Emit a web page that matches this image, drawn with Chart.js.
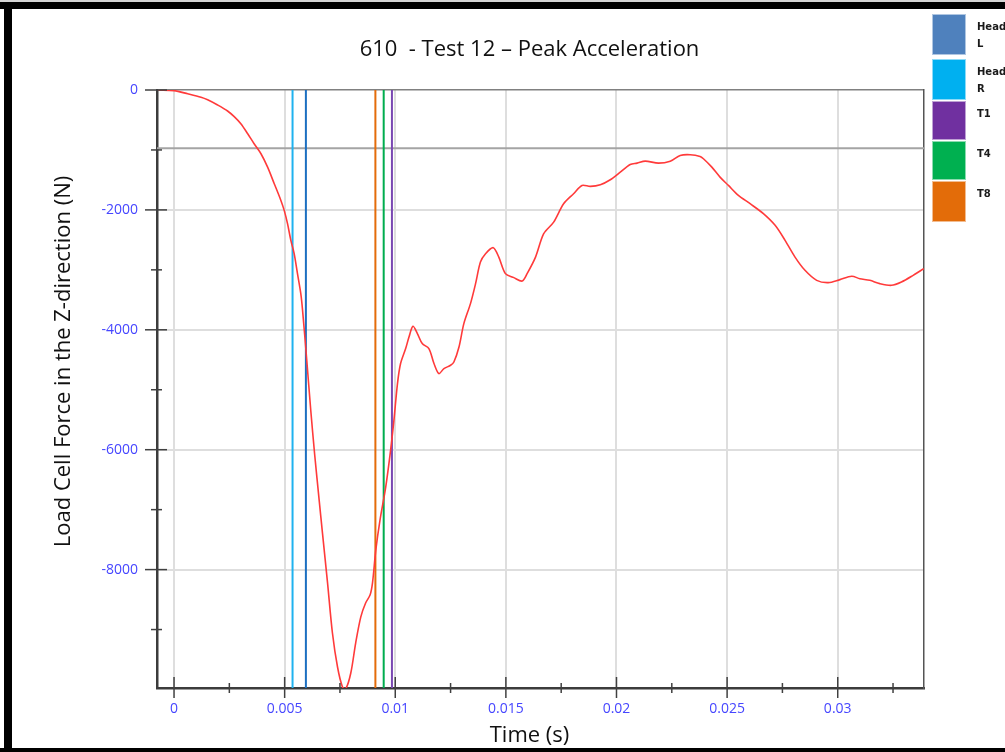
<!DOCTYPE html>
<html><head><meta charset="utf-8">
<script src="https://cdn.jsdelivr.net/npm/chart.js@4.4.1/dist/chart.umd.min.js"></script>
<style>
html,body{margin:0;padding:0;width:1005px;height:752px;overflow:hidden;background:#fff;position:relative}
#wrap{position:absolute;left:34px;top:-29px;width:991px;height:781px}
.bar{position:absolute;background:#000}
.item{position:absolute;left:932px;width:34px}
.sw{position:absolute;left:0;top:0;width:34px;height:100%;box-sizing:border-box;border:1px solid rgba(255,255,255,0.55)}
.lab{position:absolute;left:45px;top:5px;white-space:nowrap;line-height:16.5px;font-family:"DejaVu Sans";font-weight:bold;font-size:10px;color:#1a1a1a}
</style></head>
<body>
<div id="wrap"><canvas id="c" width="991" height="781" style="width:991px;height:781px"></canvas></div>
<div class="bar" style="left:0;top:0;width:1005px;height:2px;background:#d4d4d4"></div>
<div class="bar" style="left:0;top:2px;width:1005px;height:7px"></div>
<div class="bar" style="left:4px;top:2px;width:8px;height:750px"></div>
<div class="bar" style="left:0;top:748px;width:1005px;height:4px"></div>
<div id="legend"></div>
<script>
// ---- data ----
const timeS = [-0.00072, 0, 0.00062, 0.00122, 0.00152, 0.00197, 0.00242, 0.00272, 0.00302, 0.00333,
  0.00362, 0.00393, 0.00423, 0.00453, 0.00483, 0.00498, 0.00513, 0.00528, 0.00543, 0.00558,
  0.00573, 0.00581, 0.00600, 0.00618, 0.00636, 0.00656, 0.00671, 0.00694, 0.00716, 0.00739,
  0.00761, 0.00776, 0.00799, 0.00821, 0.00844, 0.00866, 0.00886, 0.00897, 0.00912, 0.00931,
  0.00957, 0.00979, 0.00994, 0.01010, 0.01024, 0.01047, 0.01062, 0.01080, 0.01100, 0.01122,
  0.01152, 0.01175, 0.01197, 0.01220, 0.01250, 0.01265, 0.01288, 0.01310, 0.01340, 0.01363,
  0.01385, 0.01408, 0.01443, 0.01468, 0.01498, 0.01536, 0.01574, 0.01596, 0.01634, 0.01671,
  0.01716, 0.01761, 0.01806, 0.01844, 0.01882, 0.01927, 0.01972, 0.02017, 0.02062, 0.02093,
  0.02130, 0.02190, 0.02243, 0.02288, 0.02333, 0.02378, 0.02393, 0.02431, 0.02468, 0.02506,
  0.02551, 0.02604, 0.02664, 0.02717, 0.02762, 0.02807, 0.02852, 0.02905, 0.02957, 0.03010,
  0.03063, 0.03100, 0.03145, 0.03190, 0.03243, 0.03288, 0.03341, 0.03389];
const forceN = [0, -10, -63, -120, -163, -250, -350, -445, -563, -730,
  -897, -1063, -1287, -1563, -1842, -2008, -2230, -2508, -2730, -3063,
  -3397, -3675, -4508, -5342, -6092, -6842, -7392, -8225, -9058, -9625,
  -9953, -9990, -9725, -9225, -8792, -8558, -8425, -8225, -7675, -7175,
  -6620, -6008, -5508, -4897, -4563, -4313, -4120, -3942, -4063, -4230,
  -4313, -4563, -4730, -4647, -4592, -4537, -4287, -3897, -3563, -3230,
  -2870, -2730, -2630, -2787, -3063, -3130, -3187, -3063, -2787, -2397,
  -2203, -1897, -1730, -1592, -1608, -1580, -1497, -1370, -1242, -1220,
  -1187, -1220, -1187, -1092, -1080, -1108, -1147, -1287, -1453, -1592,
  -1758, -1897, -2063, -2258, -2508, -2787, -3008, -3175, -3213, -3163,
  -3108, -3147, -3175, -3230, -3258, -3203, -3092, -2980];

const markerNames = ['Head L', 'Head R', 'T1', 'T4', 'T8'];
const markerTimes = [0.00596, 0.005357, 0.00985, 0.009477, 0.009102];
const markerLineColors = ['#1c6fc0', '#1fb2ef', '#7a48b2', '#00ad4e', '#e46c0a'];
const legendColors = ['#4f81bd', '#00b0f0', '#7030a0', '#00b050', '#e36c09'];

const refLevel = -970;
const xMajorTicks = [0, 0.005, 0.01, 0.015, 0.02, 0.025, 0.03];
const xTickLabels = ['0', '0.005', '0.01', '0.015', '0.02', '0.025', '0.03'];
const xMinorTicks = [0.0025, 0.0075, 0.0125, 0.0175, 0.0225, 0.0275, 0.0325];
const yMajorTicks = [0, -2000, -4000, -6000, -8000];
const yTickLabels = ['0', '-2000', '-4000', '-6000', '-8000'];
const yMinorTicks = [-1000, -3000, -5000, -7000, -9000];
const xMin = -0.00077, xMax = 0.0339, yMin = -9975, yMax = 0;

const titleText = '610  - Test 12 \u2013 Peak Acceleration';
const xTitle = 'Time (s)';
const yTitle = 'Load Cell Force in the Z-direction (N)';

// ---- legend (HTML) ----
const legendBoxes = [[14, 41], [59, 41], [101, 39], [141, 39], [181, 41]];
const legendLabels = ['Head<br>L', 'Head<br>R', 'T1', 'T4', 'T8'];
const lg = document.getElementById('legend');
markerNames.forEach((n, i) => {
  const d = document.createElement('div');
  d.className = 'item';
  d.style.top = legendBoxes[i][0] + 'px';
  d.style.height = legendBoxes[i][1] + 'px';
  d.innerHTML = '<div class="sw" style="background:' + legendColors[i] + '"></div><div class="lab">' + legendLabels[i] + '</div>';
  lg.appendChild(d);
});

// ---- chart ----
const blue = '#4646ff';
const tickFont = {family: '"Open Sans"', size: 14};
const titleFont = {family: '"Open Sans"', size: 22, weight: 'normal'};

const datasets = [];
datasets.push({label: 'ref', data: [{x: xMin, y: refLevel}, {x: xMax, y: refLevel}],
  borderColor: '#a4a4a4', borderWidth: 2, pointRadius: 0, order: 10});
markerNames.forEach((n, i) => datasets.push({
  label: n, data: [{x: markerTimes[i], y: yMax}, {x: markerTimes[i], y: yMin}],
  borderColor: markerLineColors[i], borderWidth: 2, pointRadius: 0, order: 5}));
datasets.push({label: 'Force', data: timeS.map((t, i) => ({x: t, y: forceN[i]})),
  borderColor: '#ff3a3a', borderWidth: 1.6, pointRadius: 0, tension: 0.3, order: 0});

const tickMarks = {
  id: 'tickMarks',
  afterDatasetsDraw(chart) {
    const {ctx, scales: {x, y}, chartArea: a} = chart;
    ctx.save();
    ctx.strokeStyle = '#404040';
    ctx.lineWidth = 1.5;
    const seg = (x1, y1, x2, y2) => { ctx.beginPath(); ctx.moveTo(x1, y1); ctx.lineTo(x2, y2); ctx.stroke(); };
    xMajorTicks.forEach(v => { const p = x.getPixelForValue(v); seg(p, a.bottom - 11, p, a.bottom + 10); });
    xMinorTicks.forEach(v => { const p = x.getPixelForValue(v); seg(p, a.bottom - 5, p, a.bottom + 5); });
    yMajorTicks.forEach(v => { const p = y.getPixelForValue(v); seg(a.left - 12, p, a.left + 10, p); });
    yMinorTicks.forEach(v => { const p = y.getPixelForValue(v); seg(a.left - 6, p, a.left + 5, p); });
    ctx.restore();
  }
};

new Chart(document.getElementById('c'), {
  type: 'line',
  data: {datasets},
  plugins: [tickMarks],
  options: {
    responsive: false,
    animation: false,
    devicePixelRatio: 1,
    layout: {padding: 0},
    plugins: {
      legend: {display: false},
      tooltip: {enabled: false},
      title: {display: true, text: titleText, color: '#111', font: titleFont,
        padding: {top: 65.8, bottom: 26.8}},
      subtitle: {display: true, position: 'bottom', text: xTitle, color: '#111', font: titleFont,
        padding: {top: 0, bottom: 2.8}}
    },
    scales: {
      x: {
        type: 'linear', position: 'bottom', min: xMin, max: xMax,
        afterBuildTicks: s => { s.ticks = xMajorTicks.concat(xMinorTicks).sort((a, b) => a - b).map(v => ({value: v})); },
        afterFit: s => { s.height = 34.8; },
        grid: {drawTicks: false, lineWidth: 2,
          color: c => xMajorTicks.includes(c.tick && c.tick.value) ? '#dedede' : 'rgba(0,0,0,0)'},
        border: {color: '#3c3c3c', width: 2.5},
        ticks: {color: blue, font: tickFont, padding: 13, maxRotation: 0, autoSkip: false,
          callback: v => { const i = xMajorTicks.indexOf(v); return i >= 0 ? xTickLabels[i] : ''; }}
      },
      y: {
        type: 'linear', position: 'left', min: yMin, max: yMax,
        afterBuildTicks: s => { s.ticks = yMajorTicks.concat(yMinorTicks).sort((a, b) => b - a).map(v => ({value: v})); },
        afterFit: s => { s.width = 87; },
        grid: {drawTicks: false, lineWidth: c => (c.tick && c.tick.value === 0) ? 1.5 : 2,
          color: c => { const v = c.tick && c.tick.value; return v === 0 ? '#808080' : (yMajorTicks.includes(v) ? '#dedede' : 'rgba(0,0,0,0)'); }},
        border: {color: '#3c3c3c', width: 2.5},
        ticks: {color: blue, font: tickFont, padding: 19, autoSkip: false,
          callback: v => { const i = yMajorTicks.indexOf(v); return i >= 0 ? yTickLabels[i] : ''; }}
      },
      yT: {
        type: 'linear', position: 'left', fullSize: true, weight: 10, min: 0, max: 1,
        afterFit: s => { s.width = 36; },
        grid: {display: false}, border: {display: false}, ticks: {display: false},
        title: {display: true, text: yTitle, color: '#111', font: titleFont, padding: {top: 16.8, bottom: 0}}
      },
      yR: {
        type: 'linear', position: 'right', min: 0, max: 1,
        afterFit: s => { s.width = 101; },
        grid: {display: false}, ticks: {display: false},
        border: {display: true, color: '#555', width: 1.5}
      }
    }
  }
});
</script>
</body></html>
